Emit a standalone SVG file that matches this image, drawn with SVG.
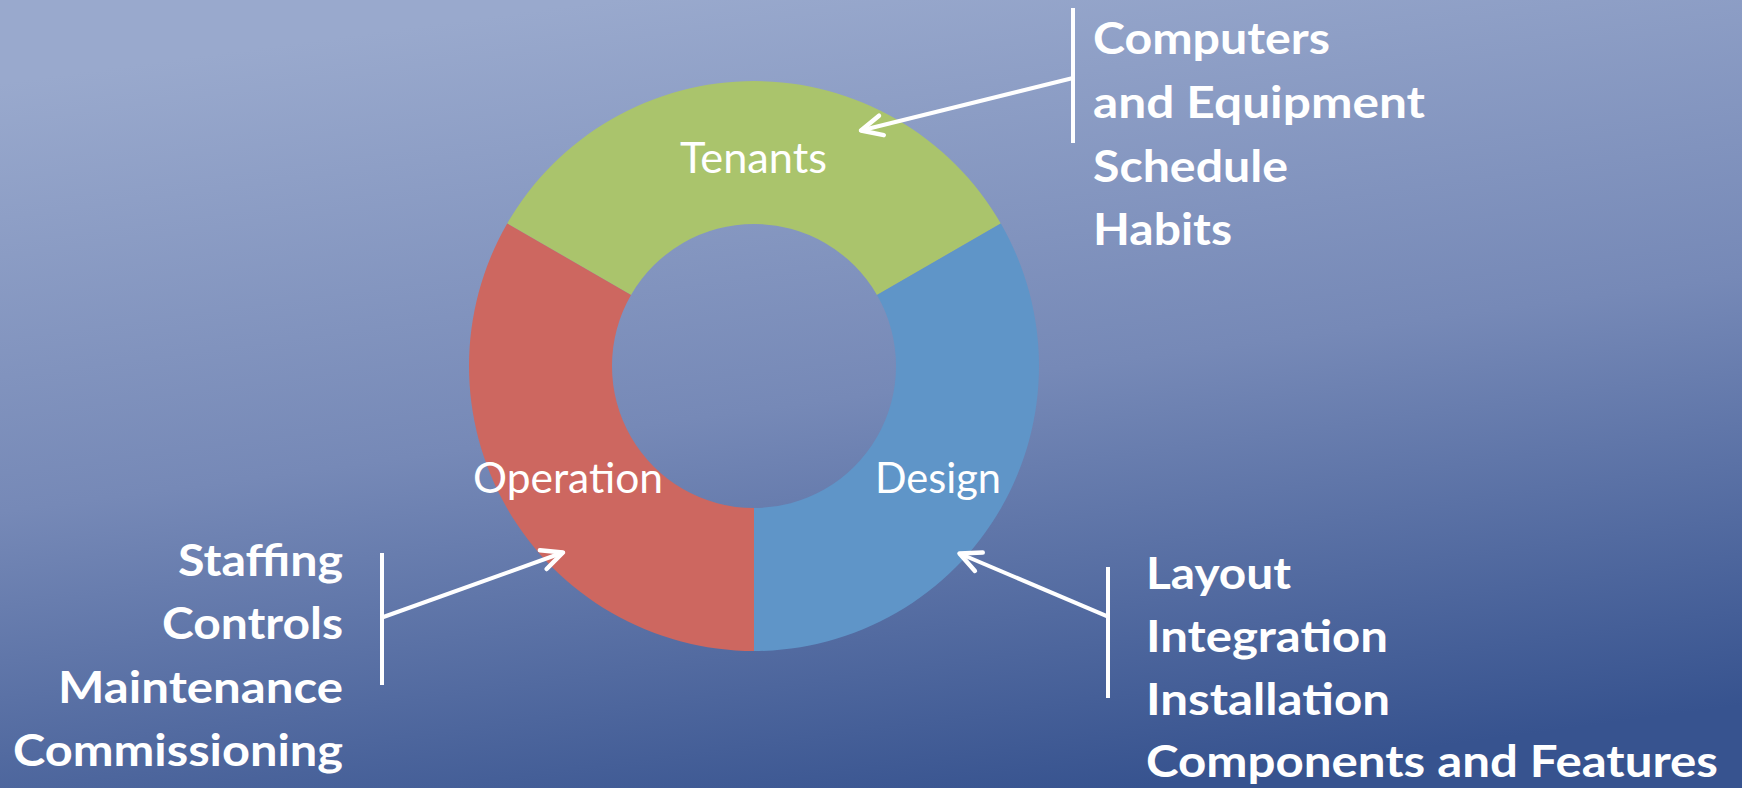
<svg xmlns="http://www.w3.org/2000/svg" width="1742" height="788" viewBox="0 0 1742 788">
  <defs>
    <linearGradient id="bg" x1="0.35" y1="0" x2="0.65" y2="1">
      <stop offset="0" stop-color="#99A9CD"/>
      <stop offset="0.5" stop-color="#7689B7"/>
      <stop offset="1" stop-color="#37538F"/>
    </linearGradient>
    <marker id="arrow" markerUnits="userSpaceOnUse" markerWidth="40" markerHeight="40" refX="0" refY="0" viewBox="-30 -20 40 40" orient="auto" overflow="visible">
      <path d="M -21 -10 L 0 0 L -21 10" fill="none" stroke="#FFFFFF" stroke-width="4.5" stroke-linecap="round" stroke-linejoin="round"/>
    </marker>
  </defs>
  <style>
    .seglabel { font-family: Lato, "Open Sans", sans-serif; font-size: 42px; fill: #FFFFFF; }
    .item { font-family: Lato, "Open Sans", sans-serif; font-weight: bold; font-size: 44px; fill: #FFFFFF; }
    .conn { stroke: #FFFFFF; stroke-width: 4; fill: none; }
  </style>
  <rect x="0" y="0" width="1742" height="788" fill="url(#bg)"/>

  <g id="node-tenants">
    <path d="M 507.2 223.5 A 285 285 0 0 1 1000.8 223.5 L 877 295 A 142 142 0 0 0 631 295 Z" fill="#AAC46C"/>
    <text class="seglabel" x="680" y="173" textLength="147" lengthAdjust="spacingAndGlyphs">Tenants</text>
  </g>
  <g id="node-design">
    <path d="M 1000.8 223.5 A 285 285 0 0 1 754 651 L 754 508 A 142 142 0 0 0 877 295 Z" fill="#5F95C8"/>
    <text class="seglabel" x="875" y="493" textLength="126" lengthAdjust="spacingAndGlyphs">Design</text>
  </g>
  <g id="node-operation">
    <path d="M 754 651 A 285 285 0 0 1 507.2 223.5 L 631 295 A 142 142 0 0 0 754 508 Z" fill="#CD6760"/>
    <text class="seglabel" x="473" y="493" textLength="190" lengthAdjust="spacingAndGlyphs">Operation</text>
  </g>

  <g id="list-tenants">
    <text class="item" x="1093" y="54" textLength="237" lengthAdjust="spacingAndGlyphs">Computers</text>
    <text class="item" x="1093" y="118" textLength="332" lengthAdjust="spacingAndGlyphs">and Equipment</text>
    <text class="item" x="1093" y="181.5" textLength="195" lengthAdjust="spacingAndGlyphs">Schedule</text>
    <text class="item" x="1093" y="245" textLength="139" lengthAdjust="spacingAndGlyphs">Habits</text>
  </g>
  <g id="list-operation">
    <text class="item" x="343" y="576" text-anchor="end" textLength="165" lengthAdjust="spacingAndGlyphs">Staffing</text>
    <text class="item" x="343" y="639" text-anchor="end" textLength="181" lengthAdjust="spacingAndGlyphs">Controls</text>
    <text class="item" x="343" y="702.5" text-anchor="end" textLength="285" lengthAdjust="spacingAndGlyphs">Maintenance</text>
    <text class="item" x="343" y="765.5" text-anchor="end" textLength="330" lengthAdjust="spacingAndGlyphs">Commissioning</text>
  </g>
  <g id="list-design">
    <text class="item" x="1146" y="589" textLength="145" lengthAdjust="spacingAndGlyphs">Layout</text>
    <text class="item" x="1146" y="652" textLength="242" lengthAdjust="spacingAndGlyphs">Integration</text>
    <text class="item" x="1146" y="715" textLength="244" lengthAdjust="spacingAndGlyphs">Installation</text>
    <text class="item" x="1146" y="777" textLength="572" lengthAdjust="spacingAndGlyphs">Components and Features</text>
  </g>

  <g id="connectors">
    <line class="conn" x1="1073" y1="8" x2="1073" y2="143"/>
    <line class="conn" x1="1073" y1="78" x2="861" y2="130.5" marker-end="url(#arrow)"/>
    <line class="conn" x1="382" y1="553" x2="382" y2="685"/>
    <line class="conn" x1="382" y1="617.5" x2="563" y2="552.5" marker-end="url(#arrow)"/>
    <line class="conn" x1="1108" y1="567" x2="1108" y2="698"/>
    <line class="conn" x1="1108" y1="616.6" x2="959.5" y2="553.5" marker-end="url(#arrow)"/>
  </g>
</svg>
